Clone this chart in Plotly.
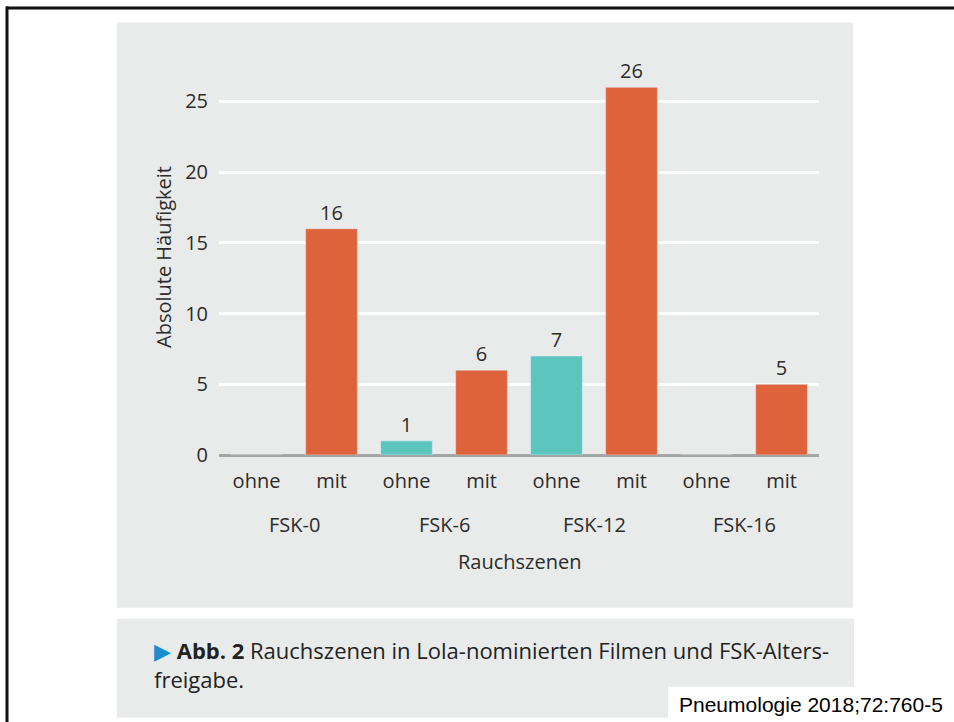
import plotly.graph_objects as go

# ---- data ----
groups = ["FSK-0", "FSK-6", "FSK-12", "FSK-16"]
sub_labels = ["ohne", "mit"]
ohne_values = [0, 1, 7, 0]
mit_values = [16, 6, 26, 5]
y_ticks = [0, 5, 10, 15, 20, 25]
x_title = "Rauchszenen"
y_title = "Absolute Häufigkeit"
caption_bold = "Abb. 2"
caption_line1 = "Rauchszenen in Lola-nominierten Filmen und FSK-Alters-"
caption_line2 = "freigabe."
citation = "Pneumologie 2018;72:760-5"

W, H = 954, 722
L, R = 219, 819          # plot area in px
T, B = 58.5, 455

ORANGE = "#DE623B"
TEAL = "#5CC6BE"
PANEL = "#E9EBEB"
TXT = "#2b2b2b"
FONT = "Open Sans"
FS = 20


def px(x):
    return (x - L) / (R - L)


def py(y):
    return (B - y) / (B - T)


x_ohne = [2 * i for i in range(len(groups))]
x_mit = [2 * i + 1 for i in range(len(groups))]

fig = go.Figure()
fig.add_bar(x=x_ohne, y=ohne_values, marker_color=TEAL, width=0.69,
            text=[str(v) if v > 0 else "" for v in ohne_values],
            textposition="outside", cliponaxis=False,
            textfont=dict(size=FS, color=TXT, family=FONT), showlegend=False)
fig.add_bar(x=x_mit, y=mit_values, marker_color=ORANGE, width=0.69,
            text=[str(v) if v > 0 else "" for v in mit_values],
            textposition="outside", cliponaxis=False,
            textfont=dict(size=FS, color=TXT, family=FONT), showlegend=False)

tickvals = list(range(2 * len(groups)))
ticktext = [sub_labels[i % 2] for i in tickvals]

fig.update_layout(
    width=W, height=H,
    margin=dict(l=L, r=W - R, t=T, b=H - B, pad=0),
    paper_bgcolor="white", plot_bgcolor=PANEL,
    font=dict(family=FONT, color=TXT, size=FS),
    barmode="overlay",
    xaxis=dict(range=[-0.5, 7.5], tickvals=tickvals, ticktext=ticktext,
               showgrid=False, zeroline=False, showline=False,
               ticks="", ticklabelstandoff=12,
               tickfont=dict(size=FS, color=TXT, family=FONT)),
    yaxis=dict(range=[0, 28], tickvals=y_ticks, showgrid=True,
               gridcolor="white", gridwidth=3,
               zeroline=True, zerolinecolor="#A4A6A6", zerolinewidth=3,
               showline=False, ticks="", ticklabelstandoff=10,
               tickfont=dict(size=FS, color=TXT, family=FONT)),
)

shapes = []
# gray chart panel
shapes.append(dict(type="rect", xref="paper", yref="paper", layer="below",
                   x0=px(117), x1=px(853), y0=py(608), y1=py(22),
                   fillcolor=PANEL, line=dict(width=0)))
# caption panel
shapes.append(dict(type="rect", xref="paper", yref="paper", layer="below",
                   x0=px(117), x1=px(854), y0=py(718), y1=py(619),
                   fillcolor=PANEL, line=dict(width=0)))
# citation white box
shapes.append(dict(type="rect", xref="paper", yref="paper", layer="above",
                   x0=px(668), x1=px(960), y0=py(730), y1=py(687),
                   fillcolor="white", line=dict(width=0)))
# black frame lines (top and left)
shapes.append(dict(type="line", xref="paper", yref="paper",
                   x0=px(6), x1=px(960), y0=py(7.5), y1=py(7.5),
                   line=dict(color="#111111", width=3)))
shapes.append(dict(type="line", xref="paper", yref="paper",
                   x0=px(7), x1=px(7), y0=py(6), y1=py(730),
                   line=dict(color="#111111", width=3)))
fig.update_layout(shapes=shapes)

ann = []
for i, g in enumerate(groups):
    ann.append(dict(x=2 * i + 0.5, xref="x", y=py(525), yref="paper",
                    text=g, showarrow=False, xanchor="center", yanchor="middle",
                    font=dict(size=FS, color=TXT, family=FONT)))
ann.append(dict(x=0.5, xref="paper", y=py(562), yref="paper", text=x_title,
                showarrow=False, xanchor="center", yanchor="middle",
                font=dict(size=FS, color=TXT, family=FONT)))
ann.append(dict(x=px(163), xref="paper", y=0.5, yref="paper", text=y_title,
                textangle=-90, showarrow=False, xanchor="center", yanchor="middle",
                font=dict(size=FS, color=TXT, family=FONT)))
ann.append(dict(x=px(152), xref="paper", y=py(650), yref="paper",
                text="<span style='color:#1a8fd0'>▶</span> <b>" + caption_bold + "</b> " + caption_line1,
                showarrow=False, xanchor="left", yanchor="middle",
                font=dict(size=22, color="#222222", family=FONT)))
ann.append(dict(x=px(152), xref="paper", y=py(679), yref="paper",
                text=caption_line2, showarrow=False, xanchor="left", yanchor="middle",
                font=dict(size=22, color="#222222", family=FONT)))
ann.append(dict(x=px(677), xref="paper", y=py(705), yref="paper",
                text=citation, showarrow=False, xanchor="left", yanchor="middle",
                font=dict(size=21, color="black", family="Liberation Sans")))
fig.update_layout(annotations=ann)

fig.write_html("out.html", config={"displayModeBar": False},
               post_script="document.body.style.margin='0';")
